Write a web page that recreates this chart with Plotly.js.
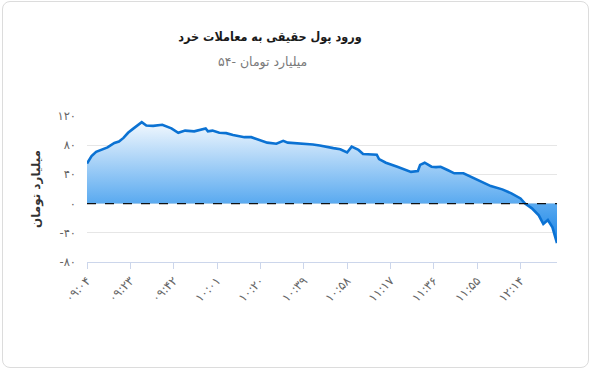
<!DOCTYPE html>
<html>
<head>
<meta charset="utf-8">
<script src="https://cdn.plot.ly/plotly-3.0.1.min.js"></script>
<style>
html,body{margin:0;padding:0;background:#fff;}
#wrap{position:relative;width:590px;height:369px;}
#chart{width:590px;height:369px;}
#card{position:absolute;left:2px;top:1px;width:585px;height:365px;border:1px solid #dcdcdc;border-radius:8px;pointer-events:none;}
</style>
</head>
<body>
<div id="wrap"><div id="chart"></div><div id="card"></div></div>
<script>
// Data (times HH:MM, values in billion toman)
const times = ["09:04","09:06","09:08","09:11","09:13","09:16","09:18","09:20","09:22","09:24","09:26","09:28","09:30","09:33","09:37","09:41","09:44","09:47","09:51","09:55","09:56","09:57","09:59","10:02","10:05","10:08","10:10","10:13","10:16","10:19","10:23","10:27","10:28","10:30","10:32","10:35","10:38","10:41","10:43","10:46","10:48","10:52","10:55","10:58","11:00","11:03","11:05","11:08","11:11","11:12","11:15","11:20","11:23","11:26","11:29","11:30","11:32","11:35","11:37","11:39","11:42","11:45","11:49","11:52","11:57","12:01","12:06","12:10","12:14","12:16","12:19","12:22","12:24","12:26","12:28","12:30"];
const values = [55,65,71,75,77,83,85,90,97,102,106.5,111.5,107,106.5,108,103,97,100,99,102,103,99,100,97,96.5,94,93,91,91,88,83.5,82,83,86,83.5,83,82,82,81,79.5,78,76,74.5,70,78,73.5,68,68,67,61,56,50.5,47,43.5,44.5,53,56,50.5,50,50.5,46,41.5,41.5,37,30,24,19.5,14,7,0,-6.5,-16,-28,-22.5,-32.5,-54];
const xTickTimes = ["09:04","09:23","09:42","10:01","10:20","10:39","10:58","11:17","11:36","11:55","12:14"];
const yTickVals = [-80,-40,0,40,80,120];
const titleText = "ورود پول حقیقی به معاملات خرد";
const subtitleText = "میلیارد تومان -۵۴";
const yTitleText = "میلیارد تومان";

const fa = s => String(s).replace(/[0-9]/g, d => "۰۱۲۳۴۵۶۷۸۹"[+d]);
const toDate = t => "2024-01-01 " + t;

const trace = {
  x: times.map(toDate),
  y: values,
  type: "scatter",
  mode: "lines",
  line: {color: "#0b72d3", width: 2.6, shape: "linear"},
  fill: "tozeroy",
  fillgradient: {type: "vertical", colorscale: [[0, "#1a84e6"], [0.33, "#5aaaf0"], [1, "#f2f8fe"]]},
  hoverinfo: "skip"
};

const layout = {
  width: 590, height: 369,
  margin: {l: 87, r: 33, t: 116, b: 107},
  paper_bgcolor: "#ffffff",
  plot_bgcolor: "#ffffff",
  showlegend: false,
  font: {family: "DejaVu Sans, sans-serif", color: "#666666"},
  title: {text: "<b>" + titleText + "</b>", x: 270/590, xanchor: "center", y: 1 - 37/369, yanchor: "middle",
          font: {size: 12.5, color: "#1a1a1a", family: "DejaVu Sans Condensed, DejaVu Sans, sans-serif"}},
  annotations: [{
    text: subtitleText, xref: "paper", yref: "paper",
    x: (262-87)/470, y: 1 + (116-62)/146, xanchor: "center", yanchor: "middle",
    showarrow: false, font: {size: 12.5, color: "#7a7a7a"}
  }],
  xaxis: {
    type: "date",
    range: [toDate(times[0]), toDate(times[times.length-1])],
    tickvals: xTickTimes.map(toDate),
    ticktext: xTickTimes.map(fa),
    tickangle: -45,
    tickfont: {size: 12, color: "#666666"},
    ticks: "outside", ticklen: 6, tickcolor: "#ccd6eb",
    showline: true, linecolor: "#ccd6eb", linewidth: 1,
    showgrid: false, zeroline: false, fixedrange: true
  },
  yaxis: {
    range: [-80, 120],
    tickvals: yTickVals,
    ticktext: yTickVals.map(v => (v < 0 ? "-" : "") + fa(Math.abs(v))),
    tickfont: {size: 11.5, color: "#666666"},
    ticks: "", ticklabelstandoff: 10,
    showgrid: true, gridcolor: "#e6e6e6", gridwidth: 1,
    zeroline: false, showline: false,
    title: {text: "<b>" + yTitleText + "</b>", font: {size: 12, color: "#333333"}, standoff: 14},
    fixedrange: true
  },
  shapes: [{
    type: "line", xref: "paper", yref: "y", x0: 0, x1: 1, y0: 0, y1: 0,
    line: {color: "#111111", width: 1.2, dash: "dash"}
  }]
};

Plotly.newPlot("chart", [trace], layout, {displayModeBar: false, staticPlot: true});
</script>
</body>
</html>
